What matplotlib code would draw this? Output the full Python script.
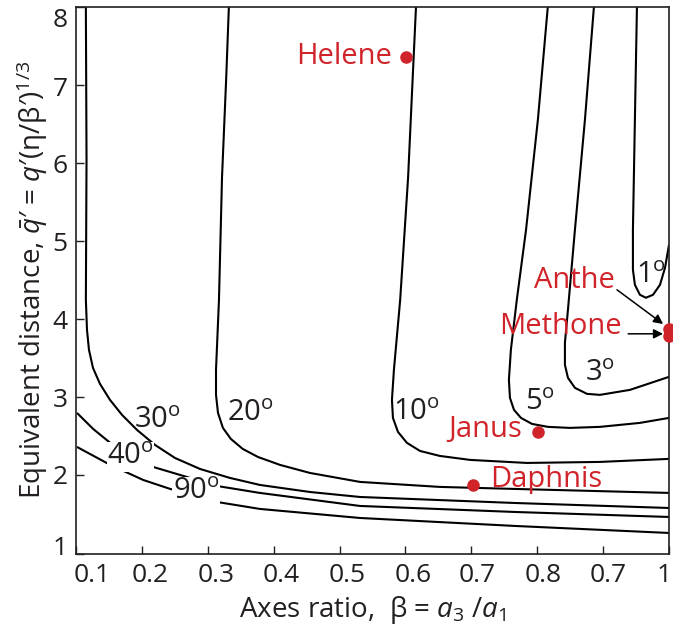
#!/usr/bin/env python3
"""
Slope-angle contours vs axes ratio and equivalent distance, with moons marked
"""

import matplotlib
matplotlib.use('Agg')
import matplotlib.pyplot as plt
from matplotlib.transforms import ScaledTranslation

plt.rcParams['font.family'] = ['Open Sans', 'DejaVu Sans']
plt.rcParams['mathtext.fontset'] = 'custom'
plt.rcParams['mathtext.rm'] = 'Open Sans'
plt.rcParams['mathtext.it'] = 'Open Sans:italic'
plt.rcParams['mathtext.bf'] = 'Open Sans:bold'

RED = '#d1232a'
INK = '#231f20'

# Contour lines: (beta, q) pairs
c90_x = [0.1015, 0.152, 0.202, 0.243, 0.314, 0.379, 0.531, 0.766, 1.0]
c90_y = [2.365, 2.135, 1.942, 1.827, 1.660, 1.571, 1.455, 1.353, 1.263]

c40_x = [0.1015, 0.126, 0.152, 0.182, 0.217, 0.268, 0.314, 0.379, 0.531, 0.766, 1.0]
c40_y = [2.801, 2.596, 2.417, 2.250, 2.109, 1.981, 1.865, 1.776, 1.609, 1.532, 1.468]

c30_x = [0.115, 0.116, 0.115, 0.1167, 0.1197, 0.1258, 0.1364, 0.1516, 0.1698, 0.1926,
         0.2199, 0.2502, 0.2882, 0.3337, 0.3792, 0.455, 0.531, 0.766, 1.0]
c30_y = [8.0, 6.045, 4.25, 3.865, 3.609, 3.378, 3.173, 2.968, 2.776, 2.583,
         2.391, 2.224, 2.083, 1.968, 1.878, 1.788, 1.724, 1.647, 1.583]

c20_x = [0.332, 0.328, 0.3216, 0.317, 0.3125, 0.3125, 0.3155, 0.323, 0.335, 0.353,
         0.376, 0.4096, 0.455, 0.531, 0.652, 0.766, 1.0]
c20_y = [8.0, 7.096, 5.814, 4.25, 3.353, 3.032, 2.801, 2.609, 2.468, 2.34,
         2.237, 2.135, 2.032, 1.917, 1.853, 1.827, 1.776]

c10_x = [0.616, 0.611, 0.604, 0.592, 0.5825, 0.5795, 0.581, 0.5886, 0.6023, 0.622,
         0.652, 0.698, 0.784, 0.895, 1.0]
c10_y = [8.0, 7.096, 5.814, 4.25, 3.353, 2.968, 2.737, 2.558, 2.417, 2.314,
         2.25, 2.199, 2.160, 2.173, 2.212]

c5_x = [0.816, 0.801, 0.783, 0.769, 0.760, 0.757, 0.7586, 0.7647, 0.7753, 0.792,
        0.8163, 0.8496, 0.8951, 0.9558, 1.0]
c5_y = [8.0, 6.558, 5.147, 4.25, 3.609, 3.224, 2.994, 2.84, 2.737, 2.66,
        2.622, 2.609, 2.622, 2.673, 2.737]

c3_x = [0.886, 0.8724, 0.8572, 0.8466, 0.842, 0.842, 0.8466, 0.8572, 0.8754, 0.8951,
        0.9407, 1.0]
c3_y = [8.0, 6.558, 5.147, 4.122, 3.699, 3.417, 3.25, 3.122, 3.045, 3.032,
        3.096, 3.263]

c1_x = [0.9513, 0.9482, 0.9452, 0.9452, 0.9482, 0.9558, 0.9649, 0.9757, 0.9863,
        0.9939, 1.0]
c1_y = [8.0, 6.558, 5.147, 4.635, 4.442, 4.314, 4.276, 4.314, 4.442, 4.66, 4.955]

contours = [(c90_x, c90_y), (c40_x, c40_y), (c30_x, c30_y), (c20_x, c20_y),
            (c10_x, c10_y), (c5_x, c5_y), (c3_x, c3_y), (c1_x, c1_y)]

# contour labels: text, position
clabel_text = ['90', '40', '30', '20', '10', '5', '3', '1']
clabel_x = [0.282, 0.183, 0.223, 0.364, 0.616, 0.804, 0.895, 0.973]
clabel_y = [1.788, 2.237, 2.71, 2.788, 2.80, 2.94, 3.30, 4.56]
clabel_gap = [True, True, False, False, False, False, False, False]

# moons
moon_names = ['Helene', 'Janus', 'Daphnis', 'Anthe', 'Methone']
moon_beta = [0.601, 0.801, 0.702, 1.0, 1.0]
moon_q = [7.365, 2.558, 1.878, 3.874, 3.788]

xtick_vals = [0.1, 0.2, 0.3, 0.4, 0.5, 0.6, 0.7, 0.8, 0.9, 1.0]
xtick_labels = ['0.1', '0.2', '0.3', '0.4', '0.5', '0.6', '0.7', '0.8', '0.7', '1']
xlabel_shift_px = [16, 8, 8, 8, 8, 8, 6, 6, 5, -5]
ytick_vals = [1, 2, 3, 4, 5, 6, 7, 8]
ylabel_shift_px = [8, 1, 0, 0, 0, 0, -1, -10]

fig = plt.figure(figsize=(6.73, 6.39), dpi=100)
ax = fig.add_axes([0.1129, 0.1338, 0.8812, 0.8552])

for cx, cy in contours:
    ax.plot(cx, cy, color='black', lw=1.5, solid_capstyle='butt', solid_joinstyle='round')

for txt, lx, ly, gap in zip(clabel_text, clabel_x, clabel_y, clabel_gap):
    kw = {}
    if gap:
        kw['bbox'] = dict(facecolor='white', edgecolor='none', pad=0.3)
    ax.text(lx, ly, txt + r'$^{\mathrm{o}}$', fontsize=21, ha='center', va='center',
            color=INK, zorder=3, **kw)

# moons
ax.plot(moon_beta, moon_q, 'o', color=RED, markersize=8, clip_on=False, zorder=4)

name_kw = dict(color=RED, fontsize=21, va='center')
ax.text(0.579, 7.365, moon_names[0], ha='right', **name_kw)
ax.text(0.777, 2.583, moon_names[1], ha='right', **name_kw)
ax.text(0.728, 1.942, moon_names[2], ha='left', **name_kw)
ax.text(0.918, 4.494, moon_names[3], ha='right', **name_kw)
ax.text(0.9285, 3.904, moon_names[4], ha='right', **name_kw)

arrow_kw = dict(arrowstyle='-|>', color='black', lw=1.1, mutation_scale=14,
                shrinkA=0, shrinkB=0)
ax.annotate('', xy=(0.991, 3.94), xytext=(0.921, 4.378), arrowprops=arrow_kw)
ax.annotate('', xy=(0.991, 3.814), xytext=(0.938, 3.814), arrowprops=arrow_kw)

ax.set_xlim(0.1, 1.0)
ax.set_ylim(1, 8)
ax.set_xticks(xtick_vals)
ax.set_xticklabels(xtick_labels)
ax.set_yticks(ytick_vals)
ax.tick_params(direction='in', length=6, width=1.0, labelsize=19,
               labelcolor=INK, color=INK, top=False, right=False)
ax.tick_params(axis='x', pad=7)
ax.tick_params(axis='y', pad=6)

for lab, dx in zip(ax.get_xticklabels(), xlabel_shift_px):
    lab.set_transform(lab.get_transform() + ScaledTranslation(dx / 100, 0, fig.dpi_scale_trans))
for lab, dy in zip(ax.get_yticklabels(), ylabel_shift_px):
    lab.set_transform(lab.get_transform() + ScaledTranslation(0, dy / 100, fig.dpi_scale_trans))

for sp in ax.spines.values():
    sp.set_linewidth(1.2)
    sp.set_color(INK)

ax.set_xlabel(r'Axes ratio,  β = $a_3$ /$a_1$', fontsize=20, color=INK, labelpad=4)
ax.set_ylabel(r"Equivalent distance, $\bar{q}$′ = $q$′(η/β′)$^{\mathit{1/3}}$",
              fontsize=20, color=INK, labelpad=2)

fig.savefig('out.png', dpi=100)
